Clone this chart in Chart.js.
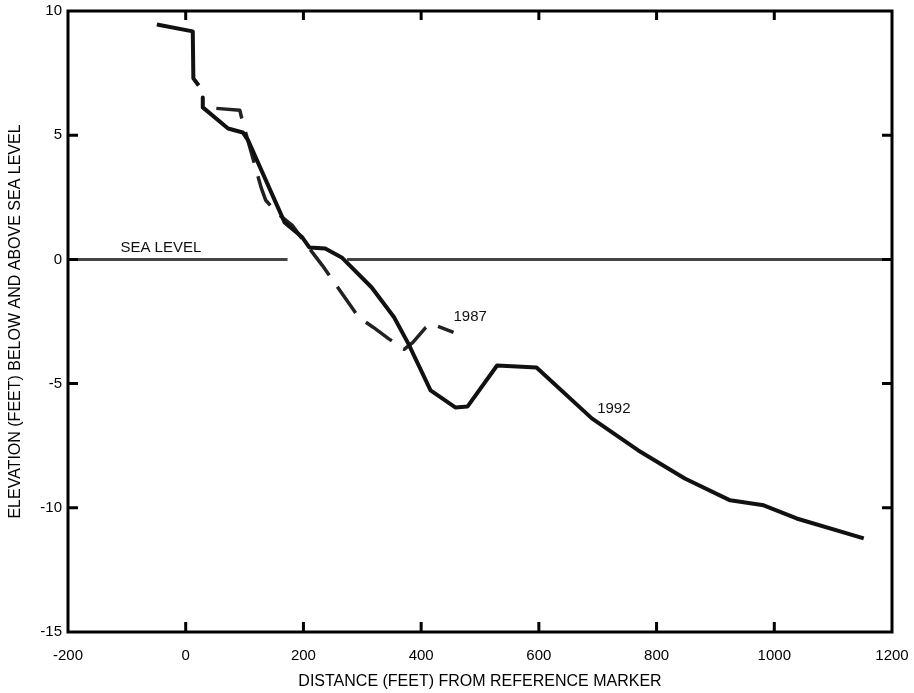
<!DOCTYPE html>
<html>
<head>
<meta charset="utf-8">
<script src="https://cdn.jsdelivr.net/npm/chart.js@4.4.0/dist/chart.umd.min.js"></script>
<style>
  html, body { margin: 0; padding: 0; background: #fff; }
  canvas { display: block; }
</style>
</head>
<body>
<canvas id="profileChart" width="914" height="693"></canvas>
<script>
// profile data
const distance1992 = [-49, 12, 13, 22, 25, 29, 29, 72, 97, 106, 168, 198, 210, 237, 265, 316, 354, 378, 416, 458, 479, 529, 596, 690, 769, 848, 925, 982, 1038, 1152];
const elevation1992 = [9.46, 9.18, 7.29, 7.0, null, 6.52, 6.12, 5.27, 5.11, 4.79, 1.49, 0.89, 0.48, 0.44, 0.08, -1.13, -2.33, -3.38, -5.27, -5.96, -5.92, -4.27, -4.35, -6.40, -7.69, -8.82, -9.70, -9.90, -10.43, -11.23];

const distance1987 = [52, 92, 96, 128, 136, 156, 181, 205, 232, 262, 282, 294, 319, 344, 371, 386, 408, 416, 455];
const elevation1987 = [6.08, 6.0, 5.6, 2.9, 2.38, 1.85, 1.37, 0.6, -0.24, -1.25, -1.93, -2.33, -2.74, -3.18, -3.62, -3.34, -2.74, -2.58, -2.94];

const seaLevelDistance = [-200, 173, 223, 274, 1200];
const seaLevelElevation = [0, 0, null, 0, 0];

const xTicks = [-200, 0, 200, 400, 600, 800, 1000, 1200];
const yTicks = [-15, -10, -5, 0, 5, 10];

const toPoints = (xs, ys) => xs.map((x, i) => ({ x: x, y: ys[i] }));

const FONT = 'Arial, "Liberation Sans", Helvetica, sans-serif';

// text written on the plot, in data units
const notes = [
    { text: 'SEA LEVEL', x: -111, y: 0.45 },
    { text: '1987', x: 455, y: -2.33 },
    { text: '1992', x: 699, y: -6.0 }
];

// box round the plot plus inward tick marks
const frameTicks = {
    id: 'frameTicks',
    afterDraw(chart) {
        const { ctx, chartArea: a, scales: { x, y } } = chart;
        ctx.save();
        ctx.strokeStyle = '#000';
        ctx.lineWidth = 3;
        ctx.strokeRect(a.left, a.top, a.right - a.left, a.bottom - a.top);
        ctx.beginPath();
        xTicks.slice(1, -1).forEach(v => {
            const px = x.getPixelForValue(v);
            ctx.moveTo(px, a.bottom);
            ctx.lineTo(px, a.bottom - 10);
            ctx.moveTo(px, a.top);
            ctx.lineTo(px, a.top + 9);
        });
        yTicks.slice(1, -1).forEach(v => {
            const py = y.getPixelForValue(v);
            ctx.moveTo(a.left, py);
            ctx.lineTo(a.left + 10, py);
            ctx.moveTo(a.right, py);
            ctx.lineTo(a.right - 10, py);
        });
        ctx.stroke();

        ctx.fillStyle = '#111';
        ctx.font = '15px ' + FONT;
        ctx.textAlign = 'left';
        ctx.textBaseline = 'middle';
        notes.forEach(n => {
            ctx.fillText(n.text, x.getPixelForValue(n.x), y.getPixelForValue(n.y));
        });
        ctx.restore();
    }
};

new Chart(document.getElementById('profileChart'), {
    type: 'line',
    plugins: [frameTicks],
    data: {
        datasets: [
            {
                label: 'Sea level',
                data: toPoints(seaLevelDistance, seaLevelElevation),
                borderColor: '#444',
                borderWidth: 3,
                pointRadius: 0,
                spanGaps: false
            },
            {
                label: '1992',
                data: toPoints(distance1992, elevation1992),
                borderColor: '#111',
                borderWidth: 4,
                pointRadius: 0,
                spanGaps: false,
                borderJoinStyle: 'round'
            },
            {
                label: '1987',
                data: toPoints(distance1987, elevation1987),
                borderColor: '#222',
                borderWidth: 3.5,
                borderDash: [32, 14],
                pointRadius: 0,
                borderJoinStyle: 'round'
            }
        ]
    },
    options: {
        responsive: false,
        animation: false,
        devicePixelRatio: 1,
        layout: {
            padding: { top: 11, right: 22, left: 0, bottom: 0 }
        },
        plugins: {
            legend: { display: false },
            tooltip: { enabled: false }
        },
        scales: {
            x: {
                type: 'linear',
                min: -200,
                max: 1200,
                afterFit(scale) {
                    scale.height = 61;
                    scale.paddingLeft = 0;
                    scale.paddingRight = 0;
                },
                afterBuildTicks(scale) { scale.ticks = xTicks.map(v => ({ value: v })); },
                grid: { display: false, tickLength: 0 },
                border: { display: false },
                ticks: {
                    color: '#000',
                    padding: 15,
                    maxRotation: 0,
                    font: { size: 15, family: FONT },
                    callback: v => String(v)
                },
                title: {
                    display: true,
                    text: 'DISTANCE (FEET) FROM REFERENCE MARKER',
                    color: '#000',
                    padding: { top: 0, bottom: 2 },
                    font: { size: 16, family: FONT }
                }
            },
            y: {
                type: 'linear',
                min: -15,
                max: 10,
                afterFit(scale) {
                    scale.width = 68;
                    scale.paddingTop = 0;
                    scale.paddingBottom = 0;
                },
                afterBuildTicks(scale) { scale.ticks = yTicks.map(v => ({ value: v })); },
                grid: { display: false, tickLength: 0 },
                border: { display: false },
                ticks: {
                    color: '#000',
                    padding: 6,
                    font: { size: 15, family: FONT },
                    callback: v => String(v)
                },
                title: {
                    display: true,
                    text: 'ELEVATION (FEET) BELOW AND ABOVE SEA LEVEL',
                    color: '#000',
                    padding: { top: 6, bottom: 0 },
                    font: { size: 16, family: FONT }
                }
            }
        }
    }
});
</script>
</body>
</html>
